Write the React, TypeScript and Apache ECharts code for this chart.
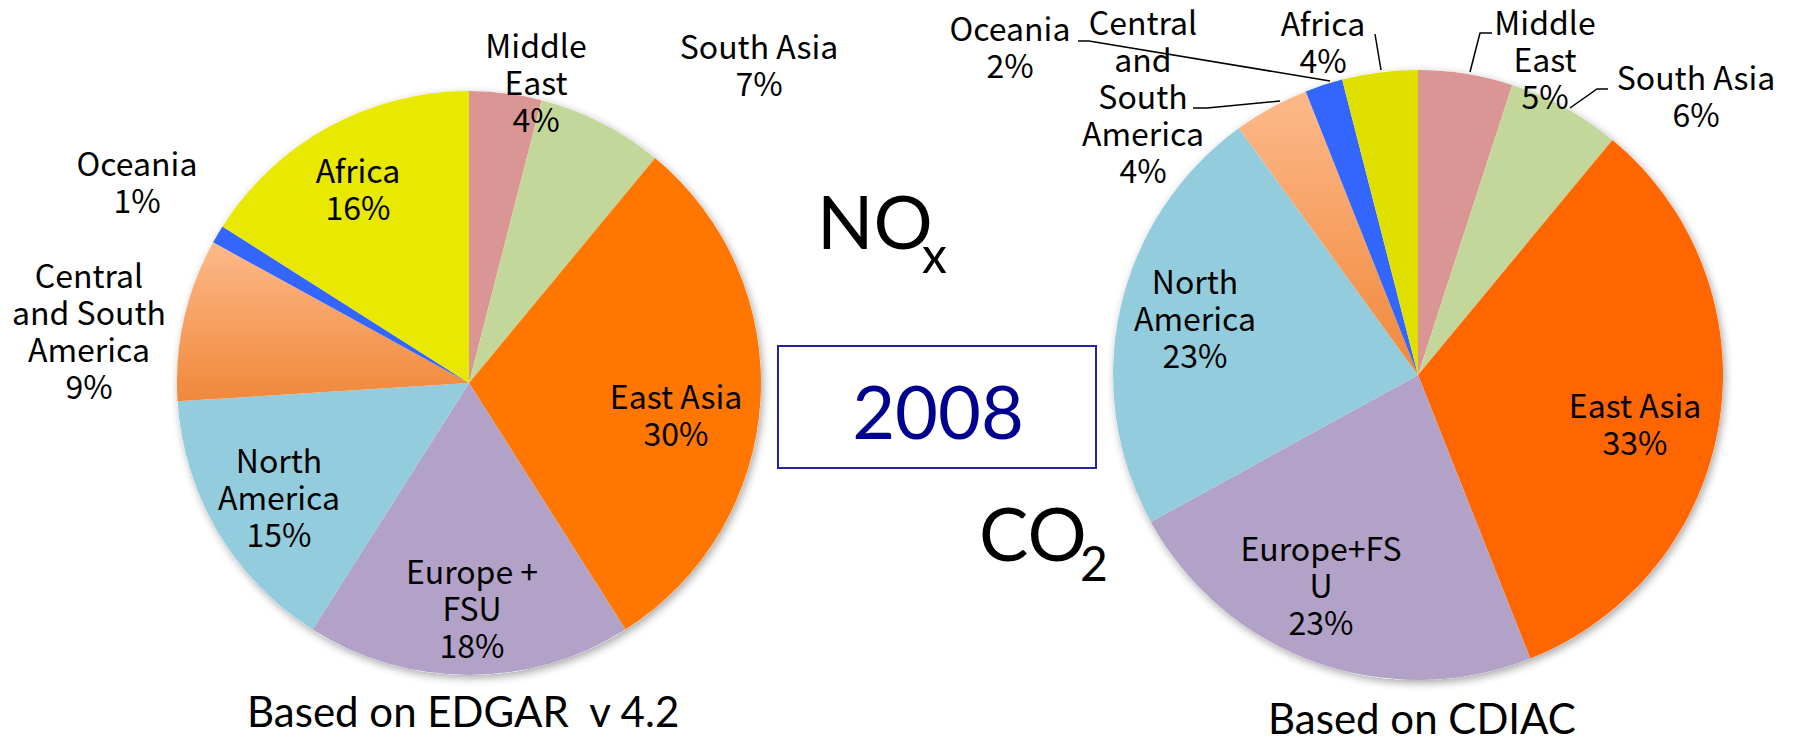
import React, { useEffect, useRef } from 'react';
import * as echarts from 'echarts';

// ---- data ----
const CATEGORIES = ['Middle East', 'South Asia', 'East Asia', 'Europe + FSU', 'North America', 'Central and South America', 'Oceania', 'Africa'];
const NOX_VALUES = [4, 7, 30, 18, 15, 9, 1, 16];
const CO2_VALUES = [5, 6, 33, 23, 23, 4, 2, 4];
const NOX_LABELS = ['Middle\nEast', 'South Asia', 'East Asia', 'Europe +\nFSU', 'North\nAmerica', 'Central\nand South\nAmerica', 'Oceania', 'Africa'];
const CO2_LABELS = ['Middle\nEast', 'South Asia', 'East Asia', 'Europe+FS\nU', 'North\nAmerica', 'Central\nand\nSouth\nAmerica', 'Oceania', 'Africa'];

// ---- styles / layout ----
const W = 1795;
const H = 742;
const LEFT_CENTER = [469, 383];
const LEFT_R = 292;
const RIGHT_CENTER = [1418, 375];
const RIGHT_R = 305;

const gradCS = () =>
  new echarts.graphic.LinearGradient(0, 0, 0, 1, [
    { offset: 0, color: '#FDB98A' },
    { offset: 1, color: '#F0883A' },
  ]);

const NOX_COLORS = ['#D99694', '#C4D79B', '#FF7700', '#B3A2C7', '#93CDDD', 'grad', '#3366FF', '#E8E800'];
const CO2_COLORS = ['#D99694', '#C4D79B', '#FF6600', '#B3A2C7', '#93CDDD', 'grad', '#3366FF', '#E0E000'];

// label centres, offsets from the pie centre
const NOX_LABEL_POS = [[67, -302], [290, -320], [207, 30], [3, 224], [-190, 113], [-380, -54], [-332, -203], [-111, -196]];
const CO2_LABEL_POS = [[127, -317], [278, -281], [217, 47], [-97, 209], [-223, -58], [-275, -280], [-408, -330], [-95, -335]];
// leader lines, offsets from the pie centre
const CO2_LEADERS: (number[][] | null)[] = [
  [[74, -342], [62, -342], [52, -303]],
  [[190, -286], [179, -286], [152, -267]],
  null,
  null,
  null,
  [[-225, -267], [-211, -267], [-138, -274]],
  [[-340, -334], [-329, -334], [-88, -294]],
  [[-43, -341], [-37, -305]],
];

const LABEL_FONT = '"Noto Sans CJK JP", "Noto Sans", sans-serif';
const TITLE_FONT = 'Lato, "Open Sans", sans-serif';

function buildSeries(
  id: string,
  values: number[],
  labels: string[],
  colors: string[],
  center: number[],
  r: number,
  pos: number[][],
  leaders: (number[][] | null)[] | null
) {
  const data = values.map((v, i) => ({
    name: CATEGORIES[i],
    value: v,
    itemStyle: { color: colors[i] === 'grad' ? gradCS() : colors[i] },
    labelLine: { show: !!(leaders && leaders[i]) },
  }));
  return [
    {
      type: 'pie',
      id: id + '-shadow',
      center,
      radius: r,
      silent: true,
      z: 1,
      data: [{ value: 1, itemStyle: { color: '#ffffff' } }],
      label: { show: false },
      labelLine: { show: false },
      itemStyle: { shadowBlur: 8, shadowColor: 'rgba(0,0,0,0.35)', shadowOffsetX: 2, shadowOffsetY: 3 },
    },
    {
      type: 'pie',
      id,
      center,
      radius: r,
      startAngle: 90,
      clockwise: true,
      z: 2,
      avoidLabelOverlap: false,
      itemStyle: { borderWidth: 0 },
      label: {
        show: true,
        position: 'outside',
        color: '#000',
        fontFamily: LABEL_FONT,
        fontSize: 32,
        lineHeight: 37,
        align: 'center',
        formatter: (p: any) => labels[p.dataIndex] + '\n' + p.value + '%',
      },
      labelLine: { show: false, lineStyle: { color: '#000', width: 1.5 } },
      labelLayout: (p: any) => {
        const i = p.dataIndex;
        const o = pos[i];
        const res: any = {
          x: center[0] + o[0],
          y: center[1] + o[1],
          align: 'center',
          verticalAlign: 'middle',
        };
        const l = leaders && leaders[i];
        if (l) res.labelLinePoints = l.map((q) => [center[0] + q[0], center[1] + q[1]]);
        return res;
      },
      emphasis: { disabled: true },
      data,
    },
  ];
}

export default function App() {
  const ref = useRef<HTMLDivElement>(null);
  useEffect(() => {
    document.body.style.margin = '0';
    const chart = echarts.init(ref.current!, null, { renderer: 'svg' });
    chart.setOption({
      animation: false,
      backgroundColor: '#ffffff',
      series: [
        ...buildSeries('nox', NOX_VALUES, NOX_LABELS, NOX_COLORS, LEFT_CENTER, LEFT_R, NOX_LABEL_POS, null),
        ...buildSeries('co2', CO2_VALUES, CO2_LABELS, CO2_COLORS, RIGHT_CENTER, RIGHT_R, CO2_LABEL_POS, CO2_LEADERS),
      ],
      graphic: [
        {
          type: 'rect',
          shape: { x: 778, y: 346, width: 318, height: 122 },
          style: { fill: 'none', stroke: '#2323A3', lineWidth: 2 },
        },
        {
          type: 'text',
          x: 938,
          y: 410,
          style: { text: '2008', font: `74px ${TITLE_FONT}`, fill: '#000090', align: 'center', verticalAlign: 'middle' },
        },
        { type: 'text', x: 817, y: 220, style: { text: 'NO', font: `74px ${TITLE_FONT}`, fill: '#000', verticalAlign: 'middle' } },
        { type: 'text', x: 922, y: 254, style: { text: 'x', font: `50px ${TITLE_FONT}`, fill: '#000', verticalAlign: 'middle' } },
        { type: 'text', x: 979, y: 532, style: { text: 'CO', font: `74px ${TITLE_FONT}`, fill: '#000', verticalAlign: 'middle' } },
        { type: 'text', x: 1080, y: 562, style: { text: '2', font: `48px ${TITLE_FONT}`, fill: '#000', verticalAlign: 'middle' } },
        { type: 'text', x: 247, y: 711, style: { text: 'Based on EDGAR  v 4.2', font: `42px ${TITLE_FONT}`, fill: '#000', verticalAlign: 'middle' } },
        { type: 'text', x: 1268, y: 718, style: { text: 'Based on CDIAC', font: `42px ${TITLE_FONT}`, fill: '#000', verticalAlign: 'middle' } },
      ],
    });
    return () => chart.dispose();
  }, []);
  return <div ref={ref} style={{ width: W, height: H }} />;
}
